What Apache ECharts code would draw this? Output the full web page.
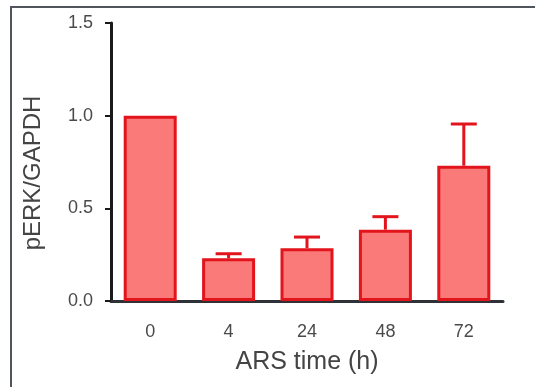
<!DOCTYPE html>
<html>
<head>
<meta charset="utf-8">
<script src="https://cdn.jsdelivr.net/npm/echarts@6/dist/echarts.min.js"></script>
<style>
  html, body { margin: 0; padding: 0; background: #ffffff; }
  #chart { width: 535px; height: 387px; }
</style>
</head>
<body>
<div id="chart"></div>
<script>
// ARS exposure time points (hours)
const categories = ['0', '4', '24', '48', '72'];
// mean pERK/GAPDH ratio at each time point
const meanValues = [1.0, 0.23, 0.285, 0.385, 0.73];
// upper end of the error bar (mean + SEM)
const upperValues = [1.0, 0.255, 0.345, 0.455, 0.955];
// y-axis ticks
const yTicks = [0, 0.5, 1.0, 1.5];

const barFill = '#fa7a7a';
const barEdge = '#e2141c';
const font = 'Liberation Sans, Arial, sans-serif';

const chart = echarts.init(document.getElementById('chart'));

const errorData = categories.map((c, i) => [i, meanValues[i], upperValues[i]]);

chart.setOption({
  animation: false,
  grid: { left: 111, top: 23, width: 392, height: 278 },
  graphic: [{
    type: 'polyline',
    shape: { points: [[11, 387], [11, 7], [535, 7]] },
    style: { stroke: '#50555c', lineWidth: 2, fill: null }
  }],
  xAxis: {
    type: 'category',
    data: categories,
    name: 'ARS time (h)',
    nameLocation: 'middle',
    nameGap: 49,
    nameTextStyle: { fontFamily: font, fontSize: 25, color: '#444' },
    axisLine: { lineStyle: { color: '#2e3136', width: 3 } },
    axisTick: { alignWithLabel: true, length: 6, lineStyle: { color: '#2e3136', width: 2 } },
    axisLabel: { fontFamily: font, fontSize: 18, color: '#4a4a4a', margin: 22 }
  },
  yAxis: {
    type: 'value',
    min: yTicks[0],
    max: yTicks[yTicks.length - 1],
    interval: 0.5,
    name: 'pERK/GAPDH',
    nameLocation: 'middle',
    nameGap: 66,
    nameTextStyle: { fontFamily: font, fontSize: 24, color: '#444', padding: [0, 22, 0, 0] },
    axisLine: { show: true, lineStyle: { color: '#1a1a1a', width: 3 } },
    axisTick: { show: true, length: 6, lineStyle: { color: '#1a1a1a', width: 2 } },
    splitLine: { show: false },
    axisLabel: {
      fontFamily: font, fontSize: 18, color: '#4a4a4a', margin: 18,
      formatter: v => v.toFixed(1)
    }
  },
  series: [
    {
      type: 'bar',
      data: meanValues,
      barWidth: 53,
      itemStyle: { color: barFill, borderColor: barEdge, borderWidth: 3 }
    },
    {
      type: 'custom',
      data: errorData,
      z: 3,
      renderItem: (params, api) => {
        const x = api.value(0);
        const mean = api.coord([x, api.value(1)]);
        const top = api.coord([x, api.value(2)]);
        if (Math.abs(top[1] - mean[1]) < 1) return { type: 'group', children: [] };
        const half = 13;
        const style = { stroke: barEdge, lineWidth: 3 };
        return {
          type: 'group',
          children: [
            { type: 'line', shape: { x1: mean[0], y1: mean[1], x2: top[0], y2: top[1] }, style },
            { type: 'line', shape: { x1: top[0] - half, y1: top[1], x2: top[0] + half, y2: top[1] }, style }
          ]
        };
      }
    }
  ]
});
</script>
</body>
</html>
